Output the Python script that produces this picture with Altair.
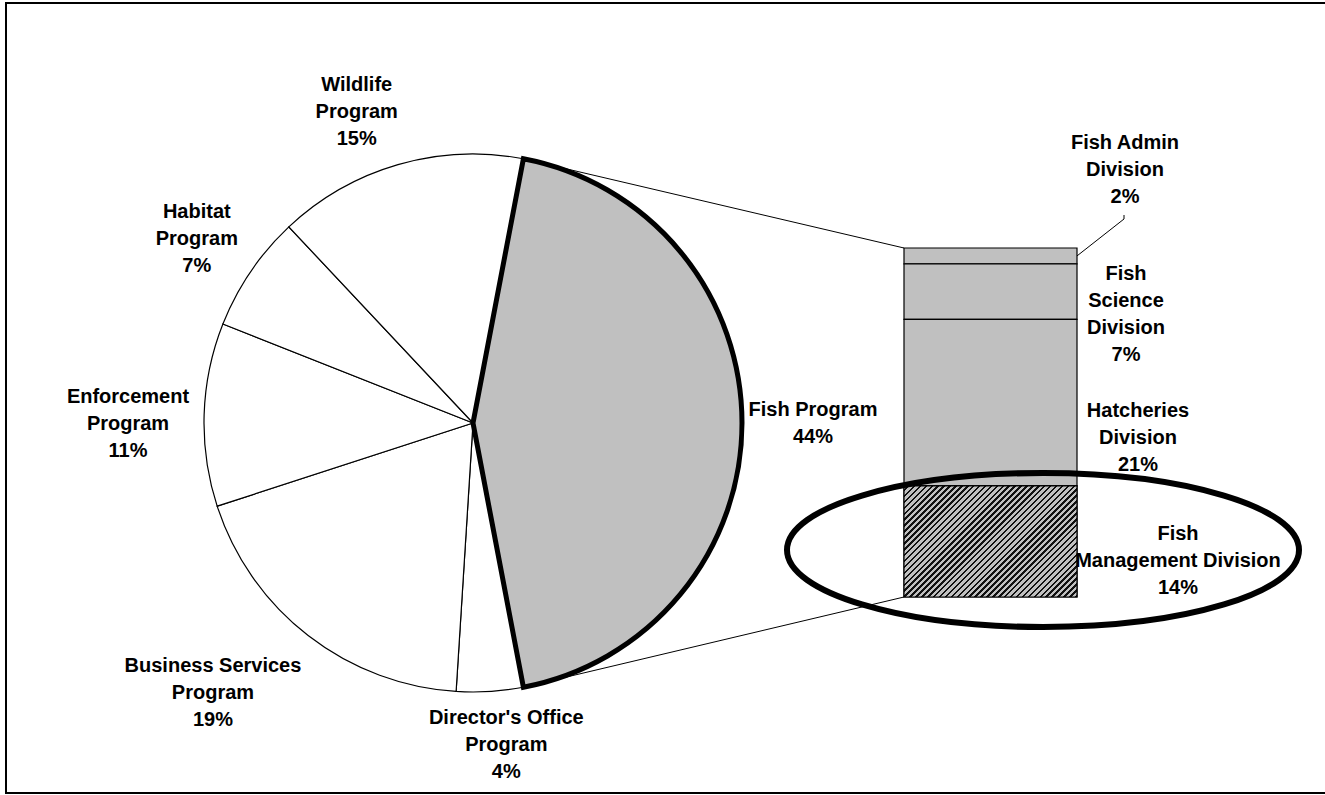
import math

import altair as alt
import pandas as pd

# Share of the agency budget by program (percent), clockwise from the Fish Program
programs = [
    "Fish Program",
    "Director's Office\nProgram",
    "Business Services\nProgram",
    "Enforcement\nProgram",
    "Habitat\nProgram",
    "Wildlife\nProgram",
]
program_pct = [44, 4, 19, 11, 7, 15]

# Fish Program split by division, listed from the top of the bar down
divisions = [
    "Fish Admin\nDivision",
    "Fish\nScience\nDivision",
    "Hatcheries\nDivision",
    "Fish\nManagement Division",
]
division_pct = [2, 7, 21, 14]

# ---- layout -------------------------------------------------------------
W, H = 1325, 795
CX, CY, R = 473, 423, 269            # pie centre and radius
BAR_X0, BAR_X1 = 904, 1077           # bar left / right edge
BAR_TOP, BAR_BOTTOM = 248, 597       # bar top / bottom edge
GRAY = "#C0C0C0"
FONT = "Liberation Sans"
FS, LH = 20, 27

# pie labels: (angle clockwise from 12 o'clock in degrees, distance from centre)
pie_label_polar = [(90, 340), (174.1, 324), (223.9, 375), (269.8, 345), (303.7, 332), (339.5, 332)]
# division labels: centre of each text block
division_label_xy = [(1125, 170), (1126, 314), (1138, 438), (1178, 561)]
# highlight ellipse round the Fish Management Division
ELL_X, ELL_Y, ELL_RX, ELL_RY = 1043, 550, 256, 77

XS = alt.Scale(domain=[0, W], range=[0, W], nice=False, zero=False)
YS = alt.Scale(domain=[0, H], range=[0, H], nice=False, zero=False)
NOAX = dict(axis=None)


def block_top(text, yc):
    """Baseline-middle y of the first line so a multi-line block is centred on yc."""
    return yc - (text.count("\n")) * LH / 2


# ---- pie ----------------------------------------------------------------
total = sum(program_pct)
# Fish Program slice is centred on 3 o'clock
a0 = math.pi / 2 - math.pi * program_pct[0] / total
a1 = a0 + 2 * math.pi * program_pct[0] / total

pie_df = pd.DataFrame({"name": programs, "pct": program_pct, "order": range(len(programs))})

pie_base = alt.Chart(pie_df).encode(
    theta=alt.Theta("pct:Q", stack=True, scale=alt.Scale(range=[a0, a0 + 2 * math.pi])),
    order=alt.Order("order:Q", sort="ascending"),
    x=alt.value(CX),
    y=alt.value(CY),
)
slices = pie_base.mark_arc(outerRadius=R, stroke="black", strokeWidth=1.2).encode(
    fill=alt.condition("datum.order == 0", alt.value(GRAY), alt.value("white"))
)
fish_outline = pie_base.mark_arc(
    outerRadius=R, stroke="black", strokeWidth=5, fillOpacity=0, strokeJoin="miter"
).encode(strokeOpacity=alt.condition("datum.order == 0", alt.value(1), alt.value(0)))

pie_texts = [f"{n}\n{v}%" for n, v in zip(programs, program_pct)]
pie_lab_df = pd.DataFrame({
    "text": pie_texts,
    "x": [CX + d * math.sin(math.radians(a)) for a, d in pie_label_polar],
    "y": [block_top(t, CY - d * math.cos(math.radians(a)))
          for t, (a, d) in zip(pie_texts, pie_label_polar)],
})

# ---- connector lines from the Fish slice to the bar ---------------------
conn_df = pd.DataFrame({
    "x": [CX + R * math.sin(a0), CX + R * math.sin(a1)],
    "y": [CY - R * math.cos(a0), CY - R * math.cos(a1)],
    "x2": [BAR_X0, BAR_X0],
    "y2": [BAR_TOP, BAR_BOTTOM],
})
connectors = alt.Chart(conn_df).mark_rule(color="black", strokeWidth=1).encode(
    x=alt.X("x:Q", scale=XS, **NOAX), y=alt.Y("y:Q", scale=YS, **NOAX), x2="x2:Q", y2="y2:Q"
)

# ---- stacked bar --------------------------------------------------------
bar_total = sum(division_pct)
bar_df = pd.DataFrame({"name": divisions, "pct": division_pct, "order": range(len(divisions))})
YB = alt.Scale(domain=[0, bar_total], range=[BAR_BOTTOM, BAR_TOP], nice=False, zero=False)

bar_base = alt.Chart(bar_df).transform_stack(
    stack="pct", groupby=[], sort=[alt.SortField("order", order="descending")], as_=["lo", "hi"]
)
bar_enc = dict(
    x=alt.value(BAR_X0),
    x2=alt.value(BAR_X1),
    y=alt.Y("lo:Q", scale=YB, **NOAX),
    y2="hi:Q",
)
bars = bar_base.mark_rect(fill=GRAY, stroke="black", strokeWidth=1.2).encode(**bar_enc)

# diagonal hatching for the Fish Management Division, built as a hard-stop gradient
hatch_w = BAR_X1 - BAR_X0
hatch_h = division_pct[-1] * (BAR_BOTTOM - BAR_TOP) / bar_total
ratio = hatch_h / hatch_w
span = (1 + ratio) / (1 + ratio ** 2)
n_stripes = round((hatch_w + hatch_h) / math.sqrt(2) / 4.2)
stops = []
for i in range(n_stripes):
    s0, s1, s2 = i / n_stripes, (i + 0.58) / n_stripes, (i + 1) / n_stripes
    stops += [
        alt.GradientStop(color=GRAY, offset=s0),
        alt.GradientStop(color=GRAY, offset=s1),
        alt.GradientStop(color="#111111", offset=s1),
        alt.GradientStop(color="#111111", offset=s2),
    ]
hatch_fill = alt.LinearGradient(
    gradient="linear", stops=stops, x1=0, y1=0, x2=span, y2=span * ratio
)
hatch = bar_base.transform_filter(f"datum.order == {len(divisions) - 1}").mark_rect(
    fill=hatch_fill, stroke="black", strokeWidth=1.2
).encode(**bar_enc)

# leader line from the Fish Admin label to its thin segment
admin_mid = BAR_TOP + (division_pct[0] / 2) * (BAR_BOTTOM - BAR_TOP) / bar_total
leader_df = pd.DataFrame({
    "x": [division_label_xy[0][0] - 1, division_label_xy[0][0] - 1, BAR_X1],
    "y": [division_label_xy[0][1] + 45, division_label_xy[0][1] + 49, admin_mid],
    "k": [0, 1, 2],
})
leader = alt.Chart(leader_df).mark_line(color="black", strokeWidth=1).encode(
    x=alt.X("x:Q", scale=XS, **NOAX), y=alt.Y("y:Q", scale=YS, **NOAX), order="k:Q"
)

# ---- ellipse ------------------------------------------------------------
k = ELL_RY / ELL_RX
c = 0.5523
ell_path = (
    f"M -1 0 C -1 {-c*k:.4f} {-c:.4f} {-k:.4f} 0 {-k:.4f} "
    f"C {c:.4f} {-k:.4f} 1 {-c*k:.4f} 1 0 "
    f"C 1 {c*k:.4f} {c:.4f} {k:.4f} 0 {k:.4f} "
    f"C {-c:.4f} {k:.4f} -1 {c*k:.4f} -1 0 Z"
)
ell_df = pd.DataFrame({"x": [ELL_X], "y": [ELL_Y]})
ellipse = alt.Chart(ell_df).mark_point(
    shape=ell_path, size=(2 * ELL_RX) ** 2, filled=False, stroke="black",
    strokeWidth=6, opacity=1,
).encode(x=alt.X("x:Q", scale=XS, **NOAX), y=alt.Y("y:Q", scale=YS, **NOAX))

# ---- labels -------------------------------------------------------------
text_style = dict(
    font=FONT, fontSize=FS, fontWeight="bold", lineBreak="\n", lineHeight=LH,
    align="center", baseline="middle", color="black",
)
pie_labels = alt.Chart(pie_lab_df).mark_text(**text_style).encode(
    x=alt.X("x:Q", scale=XS, **NOAX), y=alt.Y("y:Q", scale=YS, **NOAX), text="text:N"
)
div_texts = [f"{n}\n{v}%" for n, v in zip(divisions, division_pct)]
div_lab_df = pd.DataFrame({
    "text": div_texts,
    "x": [p[0] for p in division_label_xy],
    "y": [block_top(t, p[1]) for t, p in zip(div_texts, division_label_xy)],
})
div_labels = alt.Chart(div_lab_df).mark_text(**text_style).encode(
    x=alt.X("x:Q", scale=XS, **NOAX), y=alt.Y("y:Q", scale=YS, **NOAX), text="text:N"
)

# ---- outer frame --------------------------------------------------------
frame_df = pd.DataFrame({"x": [6], "x2": [W + 10], "y": [3], "y2": [793]})
frame = alt.Chart(frame_df).mark_rect(fill="white", fillOpacity=0, stroke="black", strokeWidth=2).encode(
    x=alt.X("x:Q", scale=XS, **NOAX), x2="x2:Q", y=alt.Y("y:Q", scale=YS, **NOAX), y2="y2:Q"
)

chart = (
    alt.layer(
        frame, connectors, slices, fish_outline, bars, hatch, leader, ellipse,
        pie_labels, div_labels,
    )
    .resolve_scale(y="independent")
    .properties(width=W, height=H, padding=0, autosize=alt.AutoSizeParams(type="none"), background="white")
    .configure_view(stroke=None)
)

chart.save("out.html", embed_options={"renderer": "svg", "actions": False})
